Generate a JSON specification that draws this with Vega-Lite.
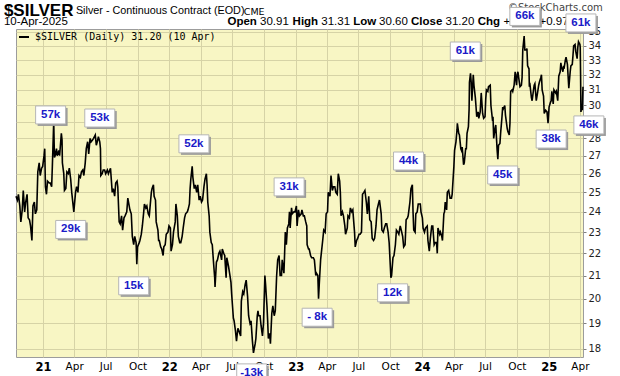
{
"$schema":"https://vega.github.io/schema/vega-lite/v6.json",
"width":567,"height":328,
"autosize":{"type":"none"},
"padding":{"left":16,"top":29,"right":37,"bottom":19},
"background":"#ffffff",
"datasets":{
"px":[
{"d":"2020-10-15","p":24.8},{"d":"2020-10-19","p":24.6},{"d":"2020-10-22","p":24.9},{"d":"2020-10-26","p":24.3},{"d":"2020-10-29","p":23.5},{"d":"2020-11-02","p":24.1},{"d":"2020-11-05","p":25.1},{"d":"2020-11-09","p":24.0},{"d":"2020-11-12","p":24.5},{"d":"2020-11-16","p":24.9},{"d":"2020-11-19","p":23.7},{"d":"2020-11-23","p":23.6},{"d":"2020-11-26","p":23.3},{"d":"2020-11-30","p":22.6},{"d":"2020-12-03","p":24.3},{"d":"2020-12-07","p":24.5},{"d":"2020-12-10","p":23.9},{"d":"2020-12-14","p":24.1},{"d":"2020-12-17","p":26.1},{"d":"2020-12-21","p":26.6},{"d":"2020-12-24","p":25.9},{"d":"2020-12-28","p":26.3},{"d":"2020-12-31","p":26.4},
{"d":"2021-01-04","p":27.0},{"d":"2021-01-06","p":27.4},{"d":"2021-01-08","p":25.3},{"d":"2021-01-11","p":24.9},{"d":"2021-01-14","p":25.6},{"d":"2021-01-19","p":25.5},{"d":"2021-01-22","p":25.5},{"d":"2021-01-26","p":25.3},{"d":"2021-01-28","p":26.4},{"d":"2021-02-01","p":29.0},{"d":"2021-02-03","p":26.9},{"d":"2021-02-05","p":27.0},{"d":"2021-02-09","p":27.4},{"d":"2021-02-11","p":27.0},{"d":"2021-02-16","p":27.3},{"d":"2021-02-18","p":27.0},{"d":"2021-02-23","p":28.3},{"d":"2021-02-25","p":27.9},{"d":"2021-02-26","p":26.6},{"d":"2021-03-02","p":26.0},{"d":"2021-03-04","p":25.1},{"d":"2021-03-08","p":25.2},{"d":"2021-03-11","p":26.1},{"d":"2021-03-15","p":26.0},{"d":"2021-03-18","p":26.3},{"d":"2021-03-22","p":25.7},{"d":"2021-03-25","p":25.0},{"d":"2021-03-31","p":24.0},{"d":"2021-04-05","p":25.0},{"d":"2021-04-08","p":25.3},{"d":"2021-04-12","p":25.0},{"d":"2021-04-15","p":25.9},{"d":"2021-04-19","p":25.8},{"d":"2021-04-22","p":26.1},{"d":"2021-04-26","p":26.2},{"d":"2021-04-29","p":25.9},{"d":"2021-05-03","p":26.6},{"d":"2021-05-06","p":27.4},{"d":"2021-05-10","p":27.8},{"d":"2021-05-13","p":27.1},{"d":"2021-05-17","p":28.0},{"d":"2021-05-20","p":27.8},{"d":"2021-05-24","p":27.9},{"d":"2021-05-27","p":28.0},{"d":"2021-06-01","p":28.2},{"d":"2021-06-04","p":27.6},{"d":"2021-06-08","p":27.9},{"d":"2021-06-10","p":28.1},{"d":"2021-06-14","p":27.8},{"d":"2021-06-16","p":27.4},{"d":"2021-06-17","p":25.9},{"d":"2021-06-21","p":26.0},{"d":"2021-06-24","p":26.2},{"d":"2021-06-28","p":26.2},{"d":"2021-07-01","p":26.0},{"d":"2021-07-06","p":26.2},{"d":"2021-07-09","p":26.0},{"d":"2021-07-13","p":26.2},{"d":"2021-07-15","p":26.3},{"d":"2021-07-20","p":25.0},{"d":"2021-07-23","p":25.2},{"d":"2021-07-27","p":24.8},{"d":"2021-07-30","p":25.5},{"d":"2021-08-03","p":25.6},{"d":"2021-08-05","p":25.3},{"d":"2021-08-09","p":23.5},{"d":"2021-08-12","p":23.4},{"d":"2021-08-16","p":23.8},{"d":"2021-08-19","p":23.1},{"d":"2021-08-23","p":23.7},{"d":"2021-08-26","p":23.8},{"d":"2021-08-31","p":24.0},{"d":"2021-09-03","p":24.7},{"d":"2021-09-07","p":24.3},{"d":"2021-09-09","p":24.1},{"d":"2021-09-13","p":23.9},{"d":"2021-09-16","p":22.8},{"d":"2021-09-20","p":22.4},{"d":"2021-09-23","p":22.8},{"d":"2021-09-27","p":22.5},{"d":"2021-09-29","p":21.5},{"d":"2021-10-01","p":22.3},{"d":"2021-10-06","p":22.5},{"d":"2021-10-08","p":22.6},{"d":"2021-10-12","p":22.9},{"d":"2021-10-15","p":23.3},{"d":"2021-10-19","p":24.0},{"d":"2021-10-21","p":24.4},{"d":"2021-10-25","p":24.2},{"d":"2021-10-28","p":24.3},{"d":"2021-11-01","p":23.9},{"d":"2021-11-04","p":23.8},{"d":"2021-11-08","p":24.6},{"d":"2021-11-10","p":25.0},{"d":"2021-11-12","p":25.2},{"d":"2021-11-16","p":25.4},{"d":"2021-11-18","p":24.8},{"d":"2021-11-22","p":24.6},{"d":"2021-11-24","p":23.5},{"d":"2021-11-29","p":23.1},{"d":"2021-12-01","p":22.6},{"d":"2021-12-03","p":22.6},{"d":"2021-12-07","p":22.3},{"d":"2021-12-10","p":22.2},{"d":"2021-12-14","p":21.9},{"d":"2021-12-16","p":22.3},{"d":"2021-12-20","p":22.4},{"d":"2021-12-23","p":22.9},{"d":"2021-12-28","p":23.0},{"d":"2021-12-31","p":23.3},
{"d":"2022-01-04","p":23.2},{"d":"2022-01-06","p":22.1},{"d":"2022-01-10","p":22.4},{"d":"2022-01-13","p":23.0},{"d":"2022-01-18","p":23.5},{"d":"2022-01-20","p":24.4},{"d":"2022-01-24","p":23.8},{"d":"2022-01-27","p":22.8},{"d":"2022-01-31","p":22.5},{"d":"2022-02-03","p":22.5},{"d":"2022-02-07","p":22.8},{"d":"2022-02-10","p":23.2},{"d":"2022-02-14","p":23.7},{"d":"2022-02-17","p":23.9},{"d":"2022-02-22","p":24.0},{"d":"2022-02-24","p":24.1},{"d":"2022-02-28","p":24.4},{"d":"2022-03-02","p":25.2},{"d":"2022-03-04","p":25.7},{"d":"2022-03-08","p":26.4},{"d":"2022-03-10","p":25.8},{"d":"2022-03-14","p":25.2},{"d":"2022-03-17","p":25.4},{"d":"2022-03-21","p":25.0},{"d":"2022-03-24","p":25.4},{"d":"2022-03-28","p":24.6},{"d":"2022-03-31","p":24.8},{"d":"2022-04-04","p":24.5},{"d":"2022-04-07","p":24.6},{"d":"2022-04-11","p":25.3},{"d":"2022-04-14","p":25.7},{"d":"2022-04-18","p":26.0},{"d":"2022-04-20","p":25.4},{"d":"2022-04-22","p":24.5},{"d":"2022-04-26","p":23.8},{"d":"2022-04-28","p":23.0},{"d":"2022-05-02","p":22.5},{"d":"2022-05-05","p":22.4},{"d":"2022-05-09","p":21.5},{"d":"2022-05-12","p":20.9},{"d":"2022-05-13","p":20.5},{"d":"2022-05-17","p":21.6},{"d":"2022-05-20","p":21.7},{"d":"2022-05-24","p":22.0},{"d":"2022-05-27","p":22.1},{"d":"2022-06-01","p":21.7},{"d":"2022-06-03","p":22.2},{"d":"2022-06-07","p":22.0},{"d":"2022-06-10","p":21.9},{"d":"2022-06-14","p":20.9},{"d":"2022-06-16","p":21.8},{"d":"2022-06-21","p":21.4},{"d":"2022-06-24","p":21.1},{"d":"2022-06-28","p":20.7},{"d":"2022-06-30","p":20.2},{"d":"2022-07-05","p":19.2},{"d":"2022-07-07","p":19.1},{"d":"2022-07-11","p":18.7},{"d":"2022-07-14","p":18.3},{"d":"2022-07-18","p":18.8},{"d":"2022-07-21","p":18.7},{"d":"2022-07-26","p":18.5},{"d":"2022-07-28","p":19.9},{"d":"2022-08-01","p":20.3},{"d":"2022-08-04","p":20.2},{"d":"2022-08-08","p":20.6},{"d":"2022-08-11","p":20.8},{"d":"2022-08-15","p":20.1},{"d":"2022-08-18","p":19.3},{"d":"2022-08-22","p":19.0},{"d":"2022-08-25","p":19.1},{"d":"2022-08-29","p":18.3},{"d":"2022-09-01","p":17.85},{"d":"2022-09-06","p":18.2},{"d":"2022-09-08","p":18.4},{"d":"2022-09-12","p":19.3},{"d":"2022-09-14","p":19.5},{"d":"2022-09-16","p":19.3},{"d":"2022-09-20","p":19.3},{"d":"2022-09-23","p":18.9},{"d":"2022-09-27","p":18.5},{"d":"2022-09-30","p":19.0},{"d":"2022-10-04","p":21.0},{"d":"2022-10-06","p":20.6},{"d":"2022-10-10","p":19.7},{"d":"2022-10-12","p":19.1},{"d":"2022-10-14","p":18.4},{"d":"2022-10-18","p":18.6},{"d":"2022-10-20","p":18.2},{"d":"2022-10-24","p":19.4},{"d":"2022-10-27","p":19.7},{"d":"2022-10-31","p":19.3},{"d":"2022-11-03","p":19.5},{"d":"2022-11-07","p":21.0},{"d":"2022-11-10","p":21.7},{"d":"2022-11-14","p":21.9},{"d":"2022-11-17","p":21.0},{"d":"2022-11-21","p":21.0},{"d":"2022-11-23","p":21.7},{"d":"2022-11-28","p":21.1},{"d":"2022-11-30","p":22.0},{"d":"2022-12-02","p":23.0},{"d":"2022-12-05","p":22.4},{"d":"2022-12-08","p":23.2},{"d":"2022-12-12","p":23.4},{"d":"2022-12-14","p":24.0},{"d":"2022-12-16","p":23.2},{"d":"2022-12-20","p":24.2},{"d":"2022-12-22","p":23.9},{"d":"2022-12-27","p":24.0},{"d":"2022-12-30","p":24.0},
{"d":"2023-01-03","p":24.3},{"d":"2023-01-05","p":23.3},{"d":"2023-01-09","p":24.1},{"d":"2023-01-12","p":23.8},{"d":"2023-01-17","p":23.9},{"d":"2023-01-19","p":24.1},{"d":"2023-01-23","p":23.8},{"d":"2023-01-26","p":23.8},{"d":"2023-01-30","p":23.5},{"d":"2023-02-02","p":23.3},{"d":"2023-02-03","p":22.4},{"d":"2023-02-07","p":22.2},{"d":"2023-02-09","p":22.2},{"d":"2023-02-13","p":21.9},{"d":"2023-02-16","p":21.8},{"d":"2023-02-21","p":21.8},{"d":"2023-02-24","p":21.7},{"d":"2023-02-28","p":21.0},{"d":"2023-03-02","p":21.1},{"d":"2023-03-06","p":21.0},{"d":"2023-03-08","p":20.0},{"d":"2023-03-10","p":20.6},{"d":"2023-03-14","p":21.7},{"d":"2023-03-16","p":22.0},{"d":"2023-03-20","p":22.6},{"d":"2023-03-23","p":23.1},{"d":"2023-03-27","p":23.0},{"d":"2023-03-30","p":23.9},{"d":"2023-04-03","p":24.0},{"d":"2023-04-05","p":25.0},{"d":"2023-04-10","p":24.8},{"d":"2023-04-13","p":25.9},{"d":"2023-04-17","p":25.1},{"d":"2023-04-20","p":25.3},{"d":"2023-04-24","p":25.3},{"d":"2023-04-27","p":25.0},{"d":"2023-05-01","p":24.9},{"d":"2023-05-04","p":26.0},{"d":"2023-05-08","p":25.6},{"d":"2023-05-10","p":25.0},{"d":"2023-05-12","p":23.8},{"d":"2023-05-16","p":24.0},{"d":"2023-05-19","p":23.8},{"d":"2023-05-23","p":23.3},{"d":"2023-05-25","p":22.9},{"d":"2023-05-30","p":23.2},{"d":"2023-06-01","p":23.8},{"d":"2023-06-05","p":23.7},{"d":"2023-06-08","p":24.2},{"d":"2023-06-12","p":24.0},{"d":"2023-06-15","p":24.1},{"d":"2023-06-20","p":23.0},{"d":"2023-06-22","p":22.3},{"d":"2023-06-26","p":22.6},{"d":"2023-06-29","p":22.7},{"d":"2023-07-03","p":22.9},{"d":"2023-07-06","p":22.9},{"d":"2023-07-10","p":23.0},{"d":"2023-07-13","p":24.9},{"d":"2023-07-17","p":25.0},{"d":"2023-07-20","p":25.1},{"d":"2023-07-24","p":24.5},{"d":"2023-07-27","p":23.9},{"d":"2023-07-31","p":24.8},{"d":"2023-08-03","p":23.6},{"d":"2023-08-07","p":23.5},{"d":"2023-08-10","p":22.7},{"d":"2023-08-14","p":22.6},{"d":"2023-08-17","p":22.7},{"d":"2023-08-21","p":23.3},{"d":"2023-08-24","p":24.1},{"d":"2023-08-28","p":24.4},{"d":"2023-08-31","p":24.6},{"d":"2023-09-05","p":23.9},{"d":"2023-09-07","p":23.1},{"d":"2023-09-11","p":23.0},{"d":"2023-09-14","p":23.2},{"d":"2023-09-18","p":23.4},{"d":"2023-09-21","p":23.4},{"d":"2023-09-25","p":23.0},{"d":"2023-09-28","p":22.5},{"d":"2023-10-03","p":20.9},{"d":"2023-10-05","p":21.0},{"d":"2023-10-09","p":21.8},{"d":"2023-10-12","p":21.9},{"d":"2023-10-16","p":22.4},{"d":"2023-10-19","p":23.1},{"d":"2023-10-23","p":23.0},{"d":"2023-10-26","p":22.9},{"d":"2023-10-30","p":23.3},{"d":"2023-11-02","p":23.1},{"d":"2023-11-06","p":22.8},{"d":"2023-11-09","p":22.3},{"d":"2023-11-13","p":22.4},{"d":"2023-11-16","p":23.6},{"d":"2023-11-20","p":23.7},{"d":"2023-11-22","p":23.8},{"d":"2023-11-27","p":24.5},{"d":"2023-11-30","p":25.2},{"d":"2023-12-04","p":25.4},{"d":"2023-12-06","p":24.0},{"d":"2023-12-08","p":23.1},{"d":"2023-12-12","p":23.0},{"d":"2023-12-14","p":23.9},{"d":"2023-12-18","p":24.0},{"d":"2023-12-21","p":24.4},{"d":"2023-12-27","p":24.4},{"d":"2023-12-29","p":24.0},
{"d":"2024-01-02","p":23.7},{"d":"2024-01-04","p":23.2},{"d":"2024-01-08","p":23.0},{"d":"2024-01-11","p":23.2},{"d":"2024-01-16","p":23.3},{"d":"2024-01-18","p":22.6},{"d":"2024-01-22","p":22.1},{"d":"2024-01-25","p":22.7},{"d":"2024-01-29","p":23.3},{"d":"2024-02-01","p":23.3},{"d":"2024-02-05","p":22.4},{"d":"2024-02-08","p":22.5},{"d":"2024-02-12","p":22.5},{"d":"2024-02-14","p":22.0},{"d":"2024-02-16","p":23.2},{"d":"2024-02-21","p":22.9},{"d":"2024-02-23","p":23.0},{"d":"2024-02-27","p":22.8},{"d":"2024-02-29","p":22.6},{"d":"2024-03-04","p":23.9},{"d":"2024-03-06","p":24.0},{"d":"2024-03-08","p":24.5},{"d":"2024-03-12","p":24.1},{"d":"2024-03-14","p":25.0},{"d":"2024-03-18","p":25.1},{"d":"2024-03-20","p":24.9},{"d":"2024-03-22","p":24.7},{"d":"2024-03-26","p":24.7},{"d":"2024-03-28","p":24.9},{"d":"2024-04-02","p":26.4},{"d":"2024-04-04","p":27.3},{"d":"2024-04-08","p":27.8},{"d":"2024-04-11","p":28.5},{"d":"2024-04-12","p":28.9},{"d":"2024-04-16","p":28.3},{"d":"2024-04-18","p":28.2},{"d":"2024-04-22","p":27.4},{"d":"2024-04-24","p":27.3},{"d":"2024-04-26","p":27.5},{"d":"2024-04-30","p":26.5},{"d":"2024-05-02","p":26.6},{"d":"2024-05-06","p":27.4},{"d":"2024-05-08","p":27.4},{"d":"2024-05-10","p":28.3},{"d":"2024-05-14","p":28.7},{"d":"2024-05-16","p":29.8},{"d":"2024-05-17","p":31.5},{"d":"2024-05-20","p":32.1},{"d":"2024-05-22","p":31.5},{"d":"2024-05-24","p":30.3},{"d":"2024-05-28","p":32.0},{"d":"2024-05-30","p":31.3},{"d":"2024-06-03","p":30.5},{"d":"2024-06-05","p":29.9},{"d":"2024-06-07","p":29.3},{"d":"2024-06-11","p":29.6},{"d":"2024-06-13","p":29.2},{"d":"2024-06-17","p":29.6},{"d":"2024-06-20","p":30.8},{"d":"2024-06-24","p":29.5},{"d":"2024-06-27","p":29.2},{"d":"2024-07-01","p":29.3},{"d":"2024-07-03","p":30.4},{"d":"2024-07-05","p":31.0},{"d":"2024-07-09","p":30.9},{"d":"2024-07-11","p":31.2},{"d":"2024-07-16","p":31.3},{"d":"2024-07-18","p":30.0},{"d":"2024-07-22","p":29.2},{"d":"2024-07-24","p":29.3},{"d":"2024-07-26","p":28.0},{"d":"2024-07-30","p":28.6},{"d":"2024-08-01","p":28.8},{"d":"2024-08-05","p":27.3},{"d":"2024-08-07","p":26.8},{"d":"2024-08-09","p":27.6},{"d":"2024-08-13","p":27.7},{"d":"2024-08-15","p":28.3},{"d":"2024-08-19","p":29.3},{"d":"2024-08-21","p":29.9},{"d":"2024-08-23","p":29.8},{"d":"2024-08-27","p":30.0},{"d":"2024-08-29","p":29.4},{"d":"2024-09-03","p":28.6},{"d":"2024-09-05","p":28.4},{"d":"2024-09-09","p":28.2},{"d":"2024-09-11","p":28.9},{"d":"2024-09-13","p":30.9},{"d":"2024-09-17","p":31.0},{"d":"2024-09-19","p":30.9},{"d":"2024-09-23","p":31.3},{"d":"2024-09-26","p":32.2},{"d":"2024-09-30","p":31.3},{"d":"2024-10-02","p":32.0},{"d":"2024-10-04","p":32.2},{"d":"2024-10-08","p":31.5},{"d":"2024-10-10","p":31.2},{"d":"2024-10-14","p":31.3},{"d":"2024-10-16","p":31.8},{"d":"2024-10-18","p":33.7},{"d":"2024-10-22","p":34.7},{"d":"2024-10-24","p":33.7},{"d":"2024-10-28","p":33.7},{"d":"2024-10-30","p":33.8},{"d":"2024-11-01","p":32.6},{"d":"2024-11-05","p":32.4},{"d":"2024-11-06","p":31.2},{"d":"2024-11-08","p":31.3},{"d":"2024-11-12","p":30.5},{"d":"2024-11-14","p":30.3},{"d":"2024-11-18","p":31.0},{"d":"2024-11-20","p":31.3},{"d":"2024-11-22","p":31.4},{"d":"2024-11-26","p":30.3},{"d":"2024-11-29","p":30.7},{"d":"2024-12-03","p":31.3},{"d":"2024-12-05","p":31.5},{"d":"2024-12-09","p":31.8},{"d":"2024-12-11","p":32.0},{"d":"2024-12-13","p":31.0},{"d":"2024-12-17","p":30.6},{"d":"2024-12-19","p":29.5},{"d":"2024-12-23","p":29.7},{"d":"2024-12-27","p":29.6},{"d":"2024-12-30","p":28.9},
{"d":"2025-01-02","p":29.9},{"d":"2025-01-06","p":30.2},{"d":"2025-01-08","p":30.3},{"d":"2025-01-10","p":30.9},{"d":"2025-01-14","p":30.1},{"d":"2025-01-16","p":31.0},{"d":"2025-01-21","p":30.8},{"d":"2025-01-23","p":30.9},{"d":"2025-01-27","p":30.3},{"d":"2025-01-30","p":31.9},{"d":"2025-02-03","p":32.2},{"d":"2025-02-05","p":32.8},{"d":"2025-02-07","p":32.5},{"d":"2025-02-11","p":32.2},{"d":"2025-02-13","p":32.6},{"d":"2025-02-14","p":32.4},{"d":"2025-02-18","p":33.0},{"d":"2025-02-20","p":33.2},{"d":"2025-02-24","p":32.7},{"d":"2025-02-26","p":31.9},{"d":"2025-02-28","p":31.1},{"d":"2025-03-04","p":32.2},{"d":"2025-03-06","p":32.6},{"d":"2025-03-10","p":32.7},{"d":"2025-03-12","p":33.3},{"d":"2025-03-14","p":34.0},{"d":"2025-03-18","p":34.1},{"d":"2025-03-20","p":33.6},{"d":"2025-03-24","p":33.1},{"d":"2025-03-26","p":33.9},{"d":"2025-03-28","p":34.3},{"d":"2025-04-01","p":34.1},{"d":"2025-04-02","p":33.9},{"d":"2025-04-03","p":32.0},{"d":"2025-04-04","p":29.6},{"d":"2025-04-07","p":30.0},{"d":"2025-04-08","p":29.7},{"d":"2025-04-09","p":30.5},{"d":"2025-04-10","p":31.2}
],
"notes":[
{"d":"2021-01-23","p":29.41,"t":"57k"},{"d":"2021-06-14","p":29.22,"t":"53k"},{"d":"2021-03-22","p":23.13,"t":"29k"},{"d":"2022-03-13","p":27.68,"t":"52k"},{"d":"2021-09-20","p":20.55,"t":"15k"},{"d":"2022-12-13","p":25.29,"t":"31k"},{"d":"2023-03-04","p":19.24,"t":"- 8k"},{"d":"2022-08-27","p":17.12,"t":"-13k"},{"d":"2023-10-08","p":20.25,"t":"12k"},{"d":"2023-11-23","p":26.7,"t":"44k"},{"d":"2024-05-05","p":33.63,"t":"61k"},{"d":"2024-08-21","p":25.93,"t":"45k"},{"d":"2024-10-24","p":36.16,"t":"66k"},{"d":"2025-01-08","p":27.96,"t":"38k"},{"d":"2025-04-04","p":35.67,"t":"61k"},{"d":"2025-04-27","p":28.8,"t":"46k"}
],
"head":[
{"d":"2020-09-10","p":36.6,"t":"$SILVER","k":"big"},
{"d":"2020-09-10","p":35.75,"t":"10-Apr-2025","k":"date"},
{"d":"2021-04-06","p":36.57,"t":"Silver - Continuous Contract (EOD)","k":"sub"},
{"d":"2022-08-04","p":36.5,"t":"CME","k":"cme"},
{"d":"2024-09-05","p":36.8,"t":"©StockCharts.com","k":"copy"},
{"d":"2022-06-18","p":35.75,"t":"Open","k":"lab"},
{"d":"2022-09-20","p":35.75,"t":"30.91","k":"val"},
{"d":"2022-12-23","p":35.75,"t":"High","k":"lab"},
{"d":"2023-03-16","p":35.75,"t":"31.31","k":"val"},
{"d":"2023-06-16","p":35.75,"t":"Low","k":"lab"},
{"d":"2023-08-30","p":35.75,"t":"30.60","k":"val"},
{"d":"2023-11-30","p":35.75,"t":"Close","k":"lab"},
{"d":"2024-03-09","p":35.75,"t":"31.20","k":"val"},
{"d":"2024-06-10","p":35.75,"t":"Chg","k":"lab"},
{"d":"2024-08-23","p":35.75,"t":"+0.30 (+0.97%)","k":"val"}
]
},
"layer":[
{"data":{"name":"px"},
 "mark":{"type":"line","strokeWidth":1.6,"interpolate":"linear"},
 "encoding":{
  "x":{"field":"d","type":"temporal",
   "scale":{"type":"utc","domain":[{"year":2020,"month":10,"date":15,"utc":true},{"year":2025,"month":4,"date":10,"utc":true}]},
   "axis":{"title":null,"tickCount":{"interval":"month","step":3},
    "labelExpr":"utcmonth(datum.value)==0 ? utcFormat(datum.value,'%y') : utcFormat(datum.value,'%b')",
    "labelFontWeight":{"condition":{"test":"utcmonth(datum.value)==0","value":"bold"},"value":"normal"},
    "labelFontSize":{"condition":{"test":"utcmonth(datum.value)==0","value":11.5},"value":10.5},
    "labelFont":"DejaVu Sans","labelColor":"#000000","labelPadding":4,"labelFlush":false,"labelOverlap":false,"labelSeparation":0,"labelBound":false,
    "grid":true,"gridColor":"#d6d3a6","gridWidth":1,"ticks":false,"domain":false}},
  "y":{"field":"p","type":"quantitative",
   "scale":{"type":"log","domain":[17.7,35.22],"nice":false,"zero":false},
   "axis":{"orient":"right","title":null,"values":[18,19,20,21,22,23,24,25,26,27,28,29,30,31,32,33,34,35],"format":"d",
    "grid":true,"gridColor":"#d6d3a6","gridWidth":1,"domain":false,"ticks":true,"tickSize":3,"tickColor":"#808080",
    "labelFont":"DejaVu Sans","labelFontSize":10,"labelColor":"#222222","labelPadding":2,"labelOverlap":false}},
  "color":{"datum":"$SILVER (Daily) 31.20 (10 Apr)","type":"nominal","scale":{"range":["#000000"]},
   "legend":{"orient":"top-left","offset":2,"padding":0,"title":null,"symbolType":"stroke","symbolStrokeWidth":2,"symbolSize":100,
    "labelFont":"DejaVu Sans Mono","labelFontSize":10,"labelColor":"#000000","labelOffset":5,"labelLimit":400}}
 }},
{"data":{"name":"head"},"transform":[{"filter":"datum.k=='big'"}],
 "mark":{"type":"text","align":"left","baseline":"middle","font":"Liberation Sans","fontWeight":"bold","fontSize":17,"color":"#000000"},
 "encoding":{"x":{"field":"d","type":"temporal"},"y":{"field":"p","type":"quantitative"},"text":{"field":"t"}}},
{"data":{"name":"head"},"transform":[{"filter":"datum.k=='date'"}],
 "mark":{"type":"text","align":"left","baseline":"middle","font":"Liberation Sans","fontSize":11.5,"color":"#000000"},
 "encoding":{"x":{"field":"d","type":"temporal"},"y":{"field":"p","type":"quantitative"},"text":{"field":"t"}}},
{"data":{"name":"head"},"transform":[{"filter":"datum.k=='sub'"}],
 "mark":{"type":"text","align":"left","baseline":"middle","font":"Liberation Sans","fontSize":10.8,"color":"#000000"},
 "encoding":{"x":{"field":"d","type":"temporal"},"y":{"field":"p","type":"quantitative"},"text":{"field":"t"}}},
{"data":{"name":"head"},"transform":[{"filter":"datum.k=='cme'"}],
 "mark":{"type":"text","align":"left","baseline":"middle","font":"DejaVu Sans","fontSize":9.5,"color":"#000000"},
 "encoding":{"x":{"field":"d","type":"temporal"},"y":{"field":"p","type":"quantitative"},"text":{"field":"t"}}},
{"data":{"name":"head"},"transform":[{"filter":"datum.k=='copy'"}],
 "mark":{"type":"text","align":"left","baseline":"middle","font":"DejaVu Sans","fontSize":10,"color":"#444444"},
 "encoding":{"x":{"field":"d","type":"temporal"},"y":{"field":"p","type":"quantitative"},"text":{"field":"t"}}},
{"data":{"name":"head"},"transform":[{"filter":"datum.k=='lab'"}],
 "mark":{"type":"text","align":"left","baseline":"middle","font":"Liberation Sans","fontWeight":"bold","fontSize":11.5,"color":"#000000"},
 "encoding":{"x":{"field":"d","type":"temporal"},"y":{"field":"p","type":"quantitative"},"text":{"field":"t"}}},
{"data":{"name":"head"},"transform":[{"filter":"datum.k=='val'"}],
 "mark":{"type":"text","align":"left","baseline":"middle","font":"Liberation Sans","fontSize":11.5,"color":"#000000"},
 "encoding":{"x":{"field":"d","type":"temporal"},"y":{"field":"p","type":"quantitative"},"text":{"field":"t"}}},
{"data":{"name":"notes"},
 "mark":{"type":"point","shape":"M-1,-0.6H1V0.6H-1Z","size":900,"filled":true,"color":"#9a9a9a","opacity":1,"strokeWidth":0,"xOffset":2,"yOffset":2},
 "encoding":{"x":{"field":"d","type":"temporal"},"y":{"field":"p","type":"quantitative"}}},
{"data":{"name":"notes"},
 "mark":{"type":"point","shape":"M-1,-0.6H1V0.6H-1Z","size":900,"filled":true,"color":"#ffffff","opacity":1,"stroke":"#b5b5b5","strokeWidth":1},
 "encoding":{"x":{"field":"d","type":"temporal"},"y":{"field":"p","type":"quantitative"}}},
{"data":{"name":"notes"},
 "mark":{"type":"text","align":"center","baseline":"middle","font":"Liberation Sans","fontWeight":"bold","fontSize":11.5,"color":"#1a1ac8"},
 "encoding":{"x":{"field":"d","type":"temporal"},"y":{"field":"p","type":"quantitative"},"text":{"field":"t"}}}
],
"config":{"view":{"fill":"#f8f6c4","stroke":"#9c9c9c"}}
}
